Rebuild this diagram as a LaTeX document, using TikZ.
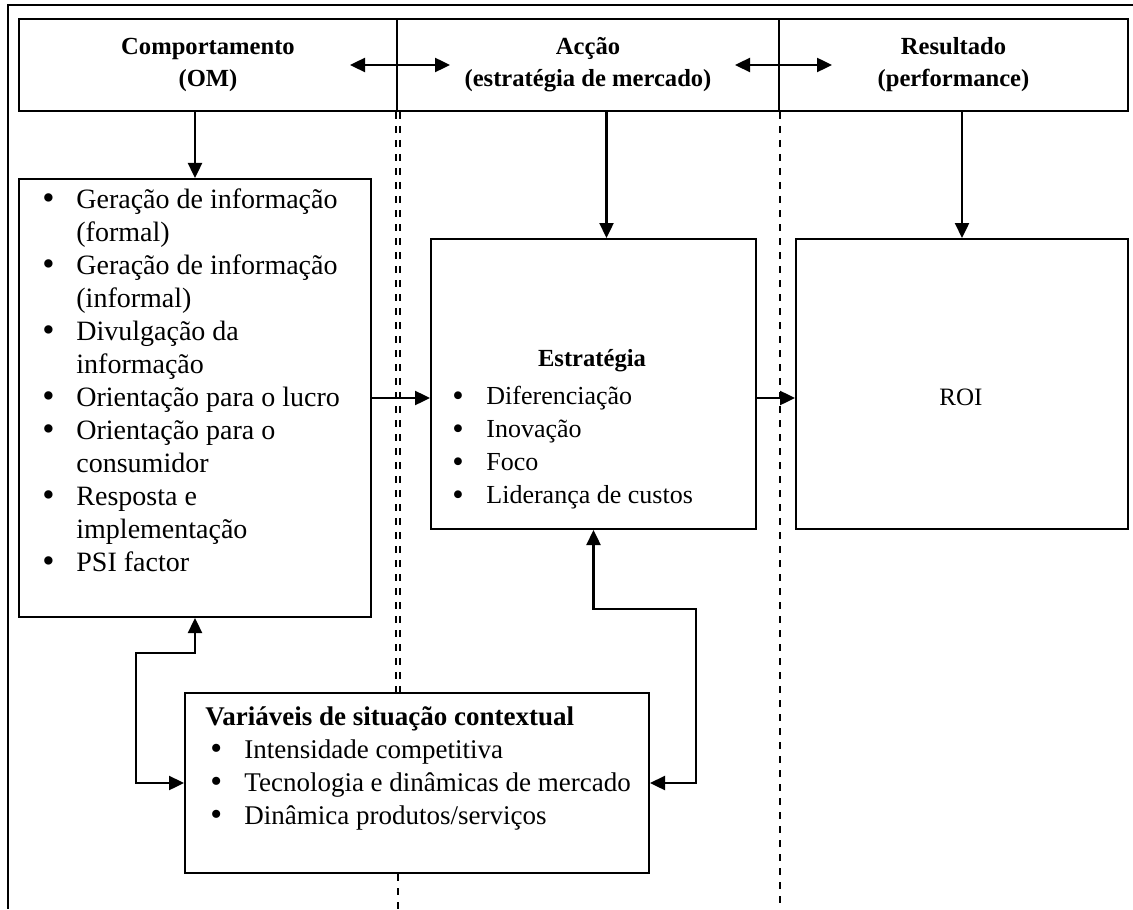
\documentclass[tikz,border=0pt]{standalone}
\usepackage{fontspec}
\setmainfont{Liberation Serif}
\usetikzlibrary{arrows.meta,positioning,calc}

\newcommand{\bitem}[1]{\makebox[17pt][l]{\smash{\raisebox{-0.7pt}{\scalebox{1.25}{\textbullet}}}}#1}
\newcommand{\bcont}[1]{\hspace*{17pt}#1}

\begin{document}
\begin{tikzpicture}[x=0.5pt, y=-0.5pt,
    box/.style={rectangle, draw, line width=1pt, anchor=north west, inner sep=0pt},
    head/.style={box, minimum height=46pt, align=center, font=\bfseries\fontsize{12.3}{16}\selectfont},
    list/.style={anchor=north west, inner sep=0pt, align=left},
    arrow/.style={-{Triangle[length=7.5pt,width=7pt]}, line width=1.2pt},
    dblarrow/.style={{Triangle[length=7.5pt,width=7pt]}-{Triangle[length=7.5pt,width=7pt]}, line width=1.2pt},
    divider/.style={dash pattern=on 3.5pt off 3.5pt, line width=0.8pt}
]
    \useasboundingbox (0,0) rectangle (1133,909);

    % Frame
    \coordinate (frameTL) at (8,5);
    \coordinate (frameTR) at (1133,5);
    \coordinate (frameBL) at (8,909);
    \draw[line width=1.2pt] (frameTR) -- (frameTL) -- (frameBL);

    % Header
    \node[head, minimum width=189pt] (hdA) at (18,18) {Comportamento\\(OM)};
    \node[head, minimum width=191pt] (hdB) at (396,18) {Acção\\(estratégia de mercado)};
    \node[head, minimum width=174.5pt] (hdC) at (778,18) {Resultado\\(performance)};

    % Boxes
    \node[box, minimum width=176pt, minimum height=219pt] (om) at (18,178) {};
    \node[box, minimum width=162.5pt, minimum height=145pt] (est) at (430,238) {};
    \node[box, minimum width=166pt, minimum height=145pt] (roi) at (795,238) {};
    \node[box, minimum width=232pt, minimum height=90pt] (ctx) at (184,692) {};

    % Texts
    \node[list, font=\fontsize{14}{16.5}\selectfont] (omtxt) at (42,188) {\bitem{Geração de informação}\\ \bcont{(formal)}\\
        \bitem{Geração de informação}\\ \bcont{(informal)}\\
        \bitem{Divulgação da}\\ \bcont{informação}\\
        \bitem{Orientação para o lucro}\\
        \bitem{Orientação para o}\\ \bcont{consumidor}\\
        \bitem{Resposta e}\\ \bcont{implementação}\\
        \bitem{PSI factor}};
    \node[font=\bfseries\fontsize{12.3}{14}\selectfont, inner sep=0pt] (esthd) at (592,361) {Estratégia};
    \node[list, font=\fontsize{13}{16.5}\selectfont] (esttxt) at (452,386) {\bitem{Diferenciação}\\ \bitem{Inovação}\\
        \bitem{Foco}\\ \bitem{Liderança de custos}};
    \node[font=\fontsize{12.5}{14}\selectfont, inner sep=0pt] (roitxt) at (961,397) {ROI};
    \node[list, font=\fontsize{13.5}{16.5}\selectfont] (ctxtxt) at (205,706) {\textbf{Variáveis de situação contextual}\\
        \hspace*{2.5pt}\bitem{Intensidade competitiva}\\
        \hspace*{2.5pt}\bitem{Tecnologia e dinâmicas de mercado}\\
        \hspace*{2.5pt}\bitem{Dinâmica produtos/serviços}};

    % Dividers
    \draw[divider, double, double distance=1pt] (hdA.south east) -- (hdA.south east |- ctx.north);
    \draw[divider] (hdA.south east |- ctx.south) -- (hdA.south east |- frameBL);
    \draw[divider] (hdB.south east) -- (hdB.south east |- frameBL);

    % Header arrows
    \draw[dblarrow] ([xshift=-24pt]hdA.east) -- ([xshift=26pt]hdA.east);
    \draw[dblarrow] ([xshift=-22.5pt]hdB.east) -- ([xshift=26pt]hdB.east);
    \draw[arrow] (om.north |- hdA.south) -- (om.north);
    \draw[arrow] ([xshift=6.5pt]est.north |- hdB.south) -- ([xshift=6.5pt]est.north);
    \draw[arrow] (roi.north |- hdC.south) -- (roi.north);

    % Flow
    \draw[arrow] (om.east) -- (om.east -| est.west);
    \draw[arrow] (est.east |- om.east) -- (roi.west |- om.east);
    \draw[dblarrow] (om.south) |- (136,653) |- (ctx.west);
    \draw[dblarrow] (est.south) |- (696,609) |- (ctx.east);
\end{tikzpicture}
\end{document}
